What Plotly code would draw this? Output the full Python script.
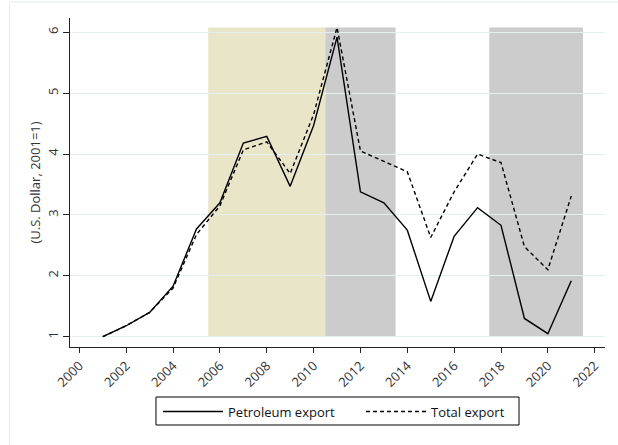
import plotly.graph_objects as go

years = list(range(2001, 2022))
petroleum = [1.00, 1.18, 1.40, 1.83, 2.77, 3.20, 4.18, 4.29, 3.47, 4.47, 5.92,
             3.38, 3.20, 2.75, 1.58, 2.65, 3.12, 2.83, 1.30, 1.05, 1.92]
total = [1.00, 1.18, 1.40, 1.80, 2.68, 3.15, 4.07, 4.20, 3.68, 4.65, 6.08,
         4.05, 3.88, 3.71, 2.63, 3.38, 4.00, 3.86, 2.48, 2.10, 3.31]

boom_periods = [(2005.5, 2010.5)]
bust_periods = [(2010.5, 2013.5), (2017.5, 2021.5)]
x_ticks = list(range(2000, 2023, 2))
y_ticks = [1, 2, 3, 4, 5, 6]

FONT = "Open Sans"
shade_top = max(total)
shade_bottom = 1

fig = go.Figure()
fig.add_trace(go.Scatter(x=years, y=petroleum, mode="lines", name="Petroleum export",
                         line=dict(color="black", width=1.4), legend="legend"))
fig.add_trace(go.Scatter(x=years, y=total, mode="lines", name="Total export",
                         line=dict(color="black", width=1.4, dash="4px,3px"), legend="legend2"))

shapes = []
for a, b in boom_periods:
    shapes.append(dict(type="rect", xref="x", yref="y", x0=a, x1=b, y0=shade_bottom, y1=shade_top,
                       fillcolor="#e8e5c9", line=dict(width=0), layer="below"))
for a, b in bust_periods:
    shapes.append(dict(type="rect", xref="x", yref="y", x0=a, x1=b, y0=shade_bottom, y1=shade_top,
                       fillcolor="#cccccc", line=dict(width=0), layer="below"))
# outer graph region border
shapes.append(dict(type="rect", xref="paper", yref="paper", x0=-0.113, x1=1.2, y0=-0.5, y1=1.049,
                   line=dict(color="#e3ecee", width=1), fillcolor="rgba(0,0,0,0)", layer="below"))
# legend frame
shapes.append(dict(type="rect", xref="paper", yref="paper", x0=0.1607, x1=0.8393, y0=-0.2371, y1=-0.152,
                   line=dict(color="black", width=1), fillcolor="rgba(0,0,0,0)", layer="above"))

legend_common = dict(orientation="h", yanchor="middle", y=-0.196, xanchor="left",
                     borderwidth=0, bgcolor="rgba(0,0,0,0)",
                     font=dict(family=FONT, size=13, color="#111"), itemwidth=60)

fig.update_layout(
    width=618, height=445,
    margin=dict(l=70, r=13, t=18, b=98),
    paper_bgcolor="white", plot_bgcolor="white",
    font=dict(family=FONT, size=13, color="#222"),
    shapes=shapes,
    showlegend=True,
    legend=dict(x=0.1645, **legend_common),
    legend2=dict(x=0.5439, **legend_common),
    xaxis=dict(range=[1999.60, 2022.44], tickvals=x_ticks, tickangle=-45,
               showline=True, linecolor="#222", linewidth=1, ticks="outside", ticklen=5,
               tickcolor="#222", showgrid=False, zeroline=False,
               tickfont=dict(family=FONT, size=13, color="#333")),
    yaxis=dict(range=[0.831, 6.235], tickvals=y_ticks, tickangle=-90,
               showline=True, linecolor="#222", linewidth=1, ticks="outside", ticklen=6,
               tickcolor="#222", showgrid=True, gridcolor="#e6eff0", gridwidth=1, zeroline=False,
               tickfont=dict(family=FONT, size=13, color="#333"),
               title=dict(text="(U.S. Dollar, 2001=1)", standoff=0,
                          font=dict(family=FONT, size=13, color="#333"))),
)

fig.write_html("out.html")
